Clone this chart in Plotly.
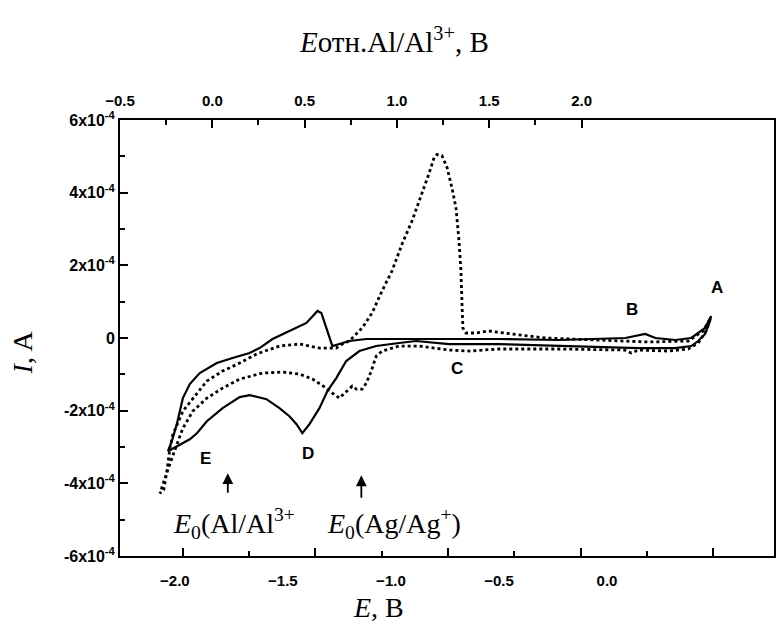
import plotly.graph_objects as go

# ---- data (E in V, I in units of 1e-4 A) ----
solid_E = [0.482, 0.477, 0.454, 0.422, 0.390, 0.316, 0.145, -0.039, -0.224, -0.501,
           -0.731, -0.884, -0.962, -1.068, -1.146, -1.207, -1.253, -1.294, -1.331, -1.377,
           -1.410, -1.437, -1.470, -1.516, -1.576, -1.654, -1.700, -1.779, -1.852, -1.898,
           -1.931, -1.976, -2.032, -2.014, -1.991, -1.963, -1.931, -1.885, -1.806, -1.733,
           -1.654, -1.608, -1.548, -1.470, -1.391, -1.340, -1.322, -1.299, -1.276, -1.271,
           -1.239, -1.193, -1.114, -0.962, -0.810, -0.501, -0.224, 0.085, 0.177, 0.224,
           0.316, 0.390, 0.454, 0.482]
solid_I = [0.607, 0.469, 0.110, -0.083, -0.221, -0.276, -0.276, -0.248, -0.221, -0.166,
           -0.166, -0.083, -0.138, -0.221, -0.359, -0.634, -1.103, -1.462, -1.931, -2.372,
           -2.621, -2.372, -2.152, -1.931, -1.683, -1.572, -1.628, -1.931, -2.290, -2.621,
           -2.786, -2.924, -3.117, -2.841, -2.372, -1.655, -1.269, -0.966, -0.690, -0.552,
           -0.414, -0.276, -0.028, 0.193, 0.414, 0.745, 0.690, 0.276, -0.138, -0.221,
           -0.166, -0.083, -0.028, -0.028, -0.028, -0.028, -0.055, 0.000, 0.110, 0.000,
           -0.055, 0.000, 0.276, 0.607]

dot_E = [0.477, 0.459, 0.422, 0.376, 0.284, 0.145, 0.113, 0.081, -0.224, -0.501,
         -0.639, -0.731, -0.870, -0.962, -1.041, -1.068, -1.091, -1.114, -1.133, -1.160,
         -1.179, -1.202, -1.239, -1.271, -1.299, -1.363, -1.423, -1.501, -1.594, -1.700,
         -1.779, -1.852, -1.917, -1.963, -1.991, -2.014, -2.046, -2.069,
         -2.051, -2.037, -2.023, -2.009, -1.963, -1.898, -1.852, -1.779, -1.700, -1.622,
         -1.516, -1.423, -1.331, -1.253, -1.225, -1.193, -1.133, -1.087, -1.041, -0.995,
         -0.948, -0.902, -0.856, -0.824, -0.800, -0.787, -0.764, -0.740, -0.717, -0.699,
         -0.685, -0.676, -0.671, -0.667, -0.653, -0.607, -0.547, -0.501, -0.441, -0.284,
         -0.039, 0.191, 0.376, 0.445, 0.477]
dot_I = [0.524, 0.193, -0.138, -0.303, -0.359, -0.331, -0.414, -0.331, -0.303, -0.303,
         -0.359, -0.331, -0.221, -0.221, -0.359, -0.497, -0.910, -1.241, -1.407, -1.407,
         -1.324, -1.462, -1.655, -1.517, -1.379, -1.131, -0.993, -0.938, -0.966, -1.131,
         -1.379, -1.655, -2.014, -2.483, -2.924, -3.310, -3.862, -4.276,
         -4.166, -3.669, -3.034, -2.648, -2.014, -1.545, -1.186, -0.910, -0.690, -0.441,
         -0.221, -0.166, -0.276, -0.276, -0.166, -0.083, 0.276, 0.690, 1.297, 1.848,
         2.593, 3.228, 3.972, 4.524, 4.966, 5.048, 5.021, 4.690, 4.110, 3.586,
         2.676, 1.848, 0.938, 0.276, 0.138, 0.138, 0.193, 0.166, 0.110, 0.000,
         -0.055, -0.110, -0.083, 0.193, 0.524]

scale = 1e-4
bottom_ticks = [-2.0, -1.5, -1.0, -0.5, 0.0]
top_ticks = [-0.5, 0.0, 0.5, 1.0, 1.5, 2.0]
y_ticks = [-6, -4, -2, 0, 2, 4, 6]
y_ticktext = ["-6x10<sup>-4</sup>", "-4x10<sup>-4</sup>", "-2x10<sup>-4</sup>", "0",
              "2x10<sup>-4</sup>", "4x10<sup>-4</sup>", "6x10<sup>-4</sup>"]

# point labels
pt_labels = ["A", "B", "C", "D", "E"]
pt_E = [0.510, 0.118, -0.694, -1.386, -1.857]
pt_I = [1.379, 0.772, -0.828, -3.172, -3.310]

# standard potentials arrows (head / tail) and texts
arr_E = [-1.755, -1.137]
arr_head = [-3.72, -3.78]
arr_tail = [-4.30, -4.44]
e0_text = ["<i>E</i><sub>0</sub>(Al/Al<sup>3+</sup>", "<i>E</i><sub>0</sub>(Ag/Ag<sup>+</sup>)"]
e0_E = [-1.727, -0.985]
e0_I = [-5.10, -5.10]

tickfont = dict(family="Arial", size=15, color="black", weight="bold")
ytickfont = dict(family="Arial", size=16, color="black", weight="bold")
serif = "Times New Roman"

fig = go.Figure()
fig.add_trace(go.Scatter(x=dot_E, y=[v * scale for v in dot_I], mode="lines",
                         line=dict(color="black", width=2.8, dash="3px,3px"),
                         showlegend=False, hoverinfo="skip"))
fig.add_trace(go.Scatter(x=solid_E, y=[v * scale for v in solid_I], mode="lines",
                         line=dict(color="black", width=2.2), showlegend=False, hoverinfo="skip"))
# empty traces to attach overlay axes
fig.add_trace(go.Scatter(x=[], y=[], xaxis="x2", yaxis="y", showlegend=False))
fig.add_trace(go.Scatter(x=[], y=[], xaxis="x3", yaxis="y", showlegend=False))

fig.update_layout(
    width=778, height=628,
    margin=dict(l=120, r=2, t=120, b=72),
    paper_bgcolor="white", plot_bgcolor="white",
    showlegend=False,
    xaxis=dict(range=[-2.254, 0.773], tickvals=bottom_ticks, tickformat=".1f",
               ticks="", showline=True, linecolor="black", linewidth=2,
               showgrid=False, zeroline=False, tickfont=tickfont, ticklabelstandoff=10),
    xaxis2=dict(overlaying="x", side="top", anchor="y", range=[-0.5, 3.042],
                tickvals=top_ticks, tickformat=".1f", ticks="inside", ticklen=8, tickwidth=2,
                tickcolor="black",
                minor=dict(tickvals=[-0.25, 0.25, 0.75, 1.25, 1.75], ticks="inside",
                           ticklen=5, tickwidth=2, tickcolor="black", showgrid=False),
                showline=True, linecolor="black", linewidth=2, showgrid=False,
                zeroline=False, tickfont=tickfont, ticklabelstandoff=6),
    xaxis3=dict(overlaying="x", side="bottom", anchor="y", range=[-0.947, 8.917],
                tickvals=[0, 2, 4, 6, 8], ticks="inside", ticklen=8, tickwidth=2,
                tickcolor="black", showticklabels=False,
                minor=dict(tickvals=[1, 3, 5, 7], ticks="inside", ticklen=5, tickwidth=2,
                           tickcolor="black", showgrid=False),
                showline=False, showgrid=False, zeroline=False),
    yaxis=dict(range=[-6e-4, 6e-4], tickvals=[v * scale for v in y_ticks],
               ticktext=y_ticktext, ticks="inside", ticklen=8, tickwidth=2,
               tickcolor="black",
               minor=dict(tickvals=[v * scale for v in [-5, -3, -1, 1, 3, 5]],
                          ticks="inside", ticklen=5, tickwidth=2, tickcolor="black",
                          showgrid=False),
               showline=True, mirror=True, linecolor="black", linewidth=2,
               showgrid=False, zeroline=False, tickfont=ytickfont),
)

for t, xe, yi in zip(pt_labels, pt_E, pt_I):
    fig.add_annotation(x=xe, y=yi * scale, text=t, showarrow=False,
                       font=dict(family="Arial", size=17, color="black", weight="bold"),
                       xref="x", yref="y", xanchor="center", yanchor="middle")
for xe, h, tl in zip(arr_E, arr_head, arr_tail):
    fig.add_annotation(x=xe, y=h * scale, ax=xe, ay=tl * scale, axref="x", ayref="y",
                       xref="x", yref="y", text="", showarrow=True, arrowhead=2,
                       arrowsize=1.2, arrowwidth=1.8, arrowcolor="black")
for t, xe, yi in zip(e0_text, e0_E, e0_I):
    fig.add_annotation(x=xe, y=yi * scale, text=t, showarrow=False,
                       font=dict(family=serif, size=28, color="black"),
                       xref="x", yref="y", xanchor="center", yanchor="middle")

fig.add_annotation(xref="paper", yref="paper", x=0.419, y=1.183,
                   xanchor="center", yanchor="middle",
                   text="<i>E</i>отн.Al/Al<sup>3+</sup>, B", showarrow=False,
                   font=dict(family=serif, size=29, color="black"))
fig.add_annotation(xref="paper", yref="paper", x=0.395, y=-0.117,
                   xanchor="center", yanchor="middle",
                   text="<i>E</i>, B", showarrow=False,
                   font=dict(family=serif, size=28, color="black"))
fig.add_annotation(xref="paper", yref="paper", x=-0.149, y=0.466, textangle=-90,
                   xanchor="center", yanchor="middle",
                   text="<i>I</i>, A", showarrow=False,
                   font=dict(family=serif, size=28, color="black"))

fig.write_html("out.html")
